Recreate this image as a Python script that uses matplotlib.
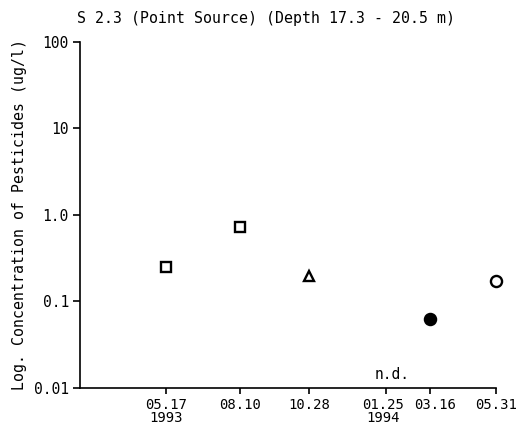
import matplotlib
matplotlib.use("Agg")
import matplotlib.pyplot as plt
import matplotlib.dates as mdates
import matplotlib.transforms as mtransforms
from datetime import datetime

# data
dates = ["1993-05-17", "1993-08-10", "1993-10-28", "1994-03-16", "1994-05-31"]
values = [0.25, 0.72, 0.197, 0.062, 0.174]
markers = ["s", "s", "^", "o", "o"]
filled = [False, False, False, True, False]
tick_dates = ["1993-05-17", "1993-08-10", "1993-10-28", "1994-01-25", "1994-03-16", "1994-05-31"]
tick_labels = ["05.17\n1993", "08.10", "10.28", "01.25\n1994", "03.16", "05.31"]
ytick_vals = [0.01, 0.1, 1.0, 10, 100]
ytick_labels = ["0.01", "0.1", "1.0", "10", "100"]
nd_date = "1994-02-01"

plt.rcParams['font.family'] = ['DejaVu Sans Mono']

fig = plt.figure(figsize=(5.18, 4.29), dpi=100)
ax = fig.add_axes([0.1544, 0.0956, 0.9575 - 0.1544, 0.9021 - 0.0956])

to_num = lambda s: mdates.date2num(datetime.strptime(s, "%Y-%m-%d"))

sizes = {"s": 7, "^": 7.5, "o": 8}
for d, v, m, f in zip(dates, values, markers, filled):
    ax.plot([to_num(d)], [v], marker=m, markersize=sizes[m],
            markerfacecolor="black" if f else "white",
            markeredgecolor="black", markeredgewidth=1.7, linestyle="none",
            clip_on=False)

ax.set_yscale("log")
ax.set_ylim(0.01, 100)
ax.set_xlim(to_num("1993-02-07"), to_num("1994-05-31"))
ax.set_yticks(ytick_vals)
ax.set_yticklabels(ytick_labels)
ax.yaxis.set_minor_locator(matplotlib.ticker.NullLocator())
ax.set_xticks([to_num(t) for t in tick_dates])
ax.set_xticklabels(tick_labels, linespacing=0.9)

for s in ["top", "right"]:
    ax.spines[s].set_visible(False)
for s in ["left", "bottom"]:
    ax.spines[s].set_linewidth(1.2)
ax.tick_params(axis="y", direction="out", length=5, width=1.2, labelsize=10.5, pad=3)
ax.tick_params(axis="x", direction="out", length=4, width=1.2, labelsize=10, pad=3)

# nudge crowded labels apart
xl = ax.get_xticklabels()
for lab, dx in [(xl[3], -3), (xl[4], 5)]:
    lab.set_transform(lab.get_transform() + mtransforms.ScaledTranslation(dx / 100, 0, fig.dpi_scale_trans))

ax.text(to_num(nd_date), 0.0116, "n.d.", ha="center", va="bottom", fontsize=10.5)

ax.set_ylabel("Log. Concentration of Pesticides (ug/l)", fontsize=10.7, labelpad=5)
fig.text(0.514, 0.956, "S 2.3 (Point Source) (Depth 17.3 - 20.5 m)", ha="center", va="center", fontsize=10.7)

fig.savefig("out.png", dpi=100)
